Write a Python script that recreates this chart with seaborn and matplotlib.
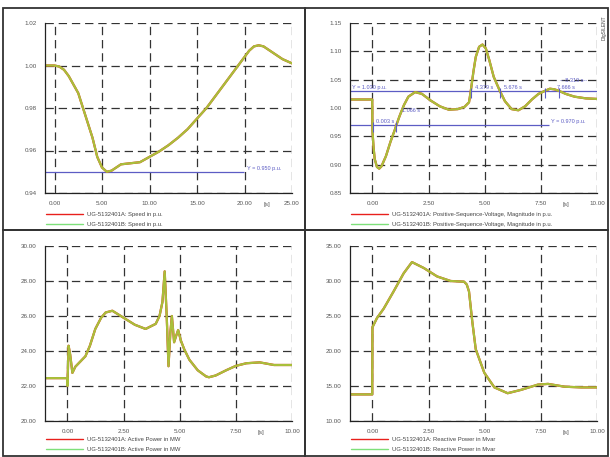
import numpy as np
import seaborn as sns
import matplotlib.pyplot as plt
from matplotlib.lines import Line2D
import matplotlib.transforms as mtransforms

# ---- data ----
speed_t = [-1, 0, 0.5, 1.0, 1.5, 2.0, 2.5, 3.0, 3.5, 4.0, 4.5, 5.0, 5.5, 6.0, 6.5, 7.0, 8.0, 9.0,
           10, 11, 12, 13, 14, 15, 16, 17, 18, 19, 20, 20.5, 21, 21.5, 22, 23, 24, 25]
speed_v = [1.000, 1.000, 0.9995, 0.998, 0.995, 0.991, 0.987, 0.980, 0.973, 0.966, 0.957, 0.952,
           0.950, 0.9505, 0.952, 0.9535, 0.954, 0.9545, 0.957, 0.9595, 0.9625, 0.966, 0.970,
           0.975, 0.980, 0.986, 0.992, 0.998, 1.004, 1.007, 1.009, 1.0095, 1.009, 1.006, 1.003, 1.001]

volt_t = [-1, -0.01, 0.0, 0.05, 0.1, 0.2, 0.3, 0.4, 0.6, 0.8, 1.0, 1.066, 1.2, 1.4, 1.6, 1.9, 2.2,
          2.6, 3.0, 3.4, 3.8, 4.1, 4.3, 4.379, 4.5, 4.6, 4.75, 4.9, 5.05, 5.2, 5.4, 5.676, 5.9,
          6.2, 6.5, 6.8, 7.1, 7.4, 7.666, 7.9, 8.1, 8.319, 8.6, 9.0, 9.5, 10]
volt_v = [1.015, 1.015, 0.96, 0.93, 0.91, 0.896, 0.893, 0.897, 0.915, 0.94, 0.962, 0.970, 0.985,
          1.005, 1.020, 1.028, 1.025, 1.013, 1.003, 0.997, 0.998, 1.002, 1.01, 1.03, 1.065, 1.09,
          1.108, 1.112, 1.105, 1.085, 1.055, 1.030, 1.012, 0.998, 0.996, 1.003, 1.015, 1.025,
          1.030, 1.034, 1.033, 1.030, 1.025, 1.020, 1.017, 1.016]

p_t = [-1, -0.01, 0.0, 0.05, 0.12, 0.22, 0.35, 0.5, 0.8, 1.0, 1.24, 1.5, 1.7, 2.0, 2.5, 3.0,
       3.48, 3.93, 4.1, 4.23, 4.33, 4.42, 4.5, 4.58, 4.65, 4.75, 4.85, 4.93, 5.05, 5.2, 5.43,
       5.8, 6.17, 6.3, 6.6, 7.07, 7.5, 7.97, 8.56, 9.2, 10]
p_v = [22.45, 22.45, 22.0, 24.3, 23.8, 22.75, 23.1, 23.3, 23.7, 24.3, 25.26, 25.9, 26.2, 26.3,
       25.9, 25.5, 25.26, 25.55, 26.0, 26.8, 28.55, 26.0, 23.13, 25.0, 26.0, 24.5, 24.9, 25.2,
       24.6, 24.1, 23.5, 22.9, 22.55, 22.5, 22.6, 22.9, 23.15, 23.3, 23.35, 23.2, 23.2]

q_t = [-1, -0.01, 0.0, 0.2, 0.5, 0.94, 1.39, 1.76, 2.29, 2.88, 3.48, 4.08, 4.2, 4.3, 4.45, 4.6,
       4.98, 5.43, 6.02, 6.62, 7.37, 7.82, 8.56, 9.3, 10]
q_v = [13.8, 13.8, 23.4, 24.7, 26.05, 28.5, 31.1, 32.7, 31.85, 30.65, 30.0, 29.9, 29.5, 28.5,
       24.1, 20.25, 16.9, 14.8, 13.97, 14.45, 15.2, 15.3, 14.9, 14.8, 14.8]

cross_t = [0.003, 1.066, 4.379, 5.676, 7.666, 8.319]
cross_y = [0.970, 0.970, 1.030, 1.030, 1.030, 1.030]

sns.set_style('white')
plt.rcParams['font.family'] = ['Liberation Sans', 'DejaVu Sans']
plt.rcParams['lines.scale_dashes'] = False

W, H = 610, 457
fig = plt.figure(figsize=(6.1, 4.57), dpi=100)

RED = '#e8201c'
GREEN = '#7ee07a'
CURVE = '#a9bf3a'
BLUE = '#5c5cc4'
GRIDC = '#333333'


def px_axes(x0, y0, x1, y1):
    return fig.add_axes([x0 / W, 1 - y1 / H, (x1 - x0) / W, (y1 - y0) / H])


def style(ax, xlim, ylim, xt, yt, xminor, yminor, s_pos, labels, leg_y):
    ax.set_xlim(*xlim)
    ax.set_ylim(*ylim)
    ax.set_xticks(xt)
    ax.set_yticks(yt)
    ax.set_xticks(xminor, minor=True)
    ax.set_yticks(yminor, minor=True)
    ax.set_xticklabels(['%.2f' % v for v in xt])
    ax.set_yticklabels(['%.2f' % v for v in yt])
    ax.grid(True, which='major', linestyle=(0, (6, 3.5)), color=GRIDC, lw=0.9)
    ax.tick_params(which='both', direction='in', labelsize=4.5, labelcolor='#555555',
                   color='#555555', pad=6)
    ax.tick_params(which='major', length=0)
    ax.tick_params(which='minor', length=2.5, width=0.6)
    for side in ['top', 'right']:
        ax.spines[side].set_visible(False)
    for side in ['left', 'bottom']:
        ax.spines[side].set_color('#222222')
        ax.spines[side].set_linewidth(0.9)
    trans = mtransforms.blended_transform_factory(ax.transData, ax.transAxes)
    ax.text(s_pos, -0.065, '[s]', transform=trans, fontsize=4.5, color='#555555',
            ha='center', va='center')
    handles = [Line2D([], [], color=RED, lw=1.0), Line2D([], [], color=GREEN, lw=1.0)]
    ax.legend(handles, labels, loc='upper left', bbox_to_anchor=(-0.005, leg_y),
              frameon=False, fontsize=4.2, handlelength=6.3, handletextpad=0.7,
              labelspacing=0.85, borderaxespad=0, labelcolor='#444444')


def curves(ax, t, v):
    sns.lineplot(x=t, y=v, ax=ax, color=RED, lw=1.6, legend=False)
    sns.lineplot(x=t, y=v, ax=ax, color=CURVE, lw=1.6, legend=False)


# panel frames
for (x0, y0, x1, y1) in [(3, 8, 305, 230), (305, 8, 608, 230), (3, 230, 305, 456), (305, 230, 608, 456)]:
    fig.add_artist(plt.Rectangle((x0 / W, 1 - y1 / H), (x1 - x0) / W, (y1 - y0) / H,
                                 transform=fig.transFigure, fill=False, ec='#333333', lw=1.3))

# top-left: speed
ax1 = px_axes(45, 23, 292, 193)
ax1.hlines(0.950, -1, 19.9, color=BLUE, lw=0.9)
ax1.text(20.3, 0.9505, 'Y = 0.950 p.u.', fontsize=4, color=BLUE, va='bottom', ha='left')
curves(ax1, speed_t, speed_v)
style(ax1, (-1, 25), (0.94, 1.02), [0, 5, 10, 15, 20, 25], [0.94, 0.96, 0.98, 1.00, 1.02],
      [2.5, 7.5, 12.5, 17.5, 22.5], [0.95, 0.97, 0.99, 1.01], 22.4,
      ['UG-5132401A: Speed in p.u.', 'UG-5132401B: Speed in p.u.'], -0.095)

# top-right: voltage
ax2 = px_axes(350, 23, 597, 193)
ax2.hlines(1.030, -1, 10, color=BLUE, lw=0.9)
ax2.hlines(0.970, -1, 7.85, color=BLUE, lw=0.9)
ax2.text(-0.9, 1.031, 'Y = 1.030 p.u.', fontsize=4, color=BLUE, va='bottom')
ax2.text(7.95, 0.971, 'Y = 0.970 p.u.', fontsize=4, color=BLUE, va='bottom')
curves(ax2, volt_t, volt_v)
ax2.vlines(cross_t, [y - 0.012 for y in cross_y], [y + 0.006 for y in cross_y], color=BLUE, lw=0.8)
txt_x = [0.15, 1.3, 4.55, 5.85, 8.2, 8.35]
txt_y = [0.971, 0.991, 1.031, 1.031, 1.031, 1.044]
for tx, ty, ct in zip(txt_x, txt_y, cross_t):
    lab = '%.3f s' % ct
    if ct == 8.319:
        lab = '-- %.3f s--' % ct
    ax2.text(tx, ty, lab, fontsize=4, color=BLUE, va='bottom')
style(ax2, (-1, 10), (0.85, 1.15), [0, 2.5, 5, 7.5, 10], [0.85, 0.90, 0.95, 1.00, 1.05, 1.10, 1.15],
      [1.25, 3.75, 6.25, 8.75], [0.875, 0.925, 0.975, 1.025, 1.075, 1.125], 8.6,
      ['UG-5132401A: Positive-Sequence-Voltage, Magnitude in p.u.',
       'UG-5132401B: Positive-Sequence-Voltage, Magnitude in p.u.'], -0.095)
fig.text(604 / W, 1 - 28 / H, 'DIgSILENT', rotation=90, fontsize=3.5, color='#444444',
         ha='center', va='center')

# bottom-left: active power
ax3 = px_axes(45, 246, 292, 421)
curves(ax3, p_t, p_v)
style(ax3, (-1, 10), (20, 30), [0, 2.5, 5, 7.5, 10], [20, 22, 24, 26, 28, 30],
      [1.25, 3.75, 6.25, 8.75], [21, 23, 25, 27, 29], 8.6,
      ['UG-5132401A: Active Power in MW', 'UG-5132401B: Active Power in MW'], -0.08)

# bottom-right: reactive power
ax4 = px_axes(350, 246, 597, 421)
curves(ax4, q_t, q_v)
style(ax4, (-1, 10), (10, 35), [0, 2.5, 5, 7.5, 10], [10, 15, 20, 25, 30, 35],
      [1.25, 3.75, 6.25, 8.75], [12.5, 17.5, 22.5, 27.5, 32.5], 8.6,
      ['UG-5132401A: Reactive Power in Mvar', 'UG-5132401B: Reactive Power in Mvar'], -0.08)

fig.savefig('out.png', dpi=100)
